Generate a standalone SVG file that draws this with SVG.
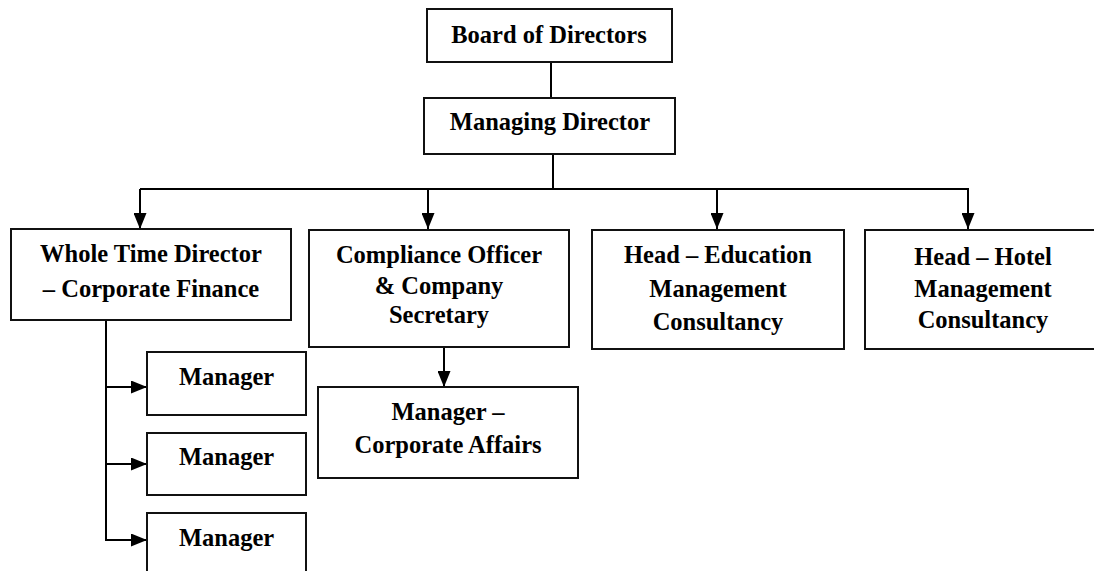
<svg xmlns="http://www.w3.org/2000/svg" width="1094" height="571" viewBox="0 0 1094 571">
  <style>
    .box { fill: #ffffff; stroke: #111111; stroke-width: 2; }
    .lbl { font-family: "Liberation Serif", "Times New Roman", serif; font-weight: bold; font-size: 24.5px; fill: #000000; text-anchor: middle; }
    .wire { fill: none; stroke: #000000; stroke-width: 2; }
    .arrow { marker-end: url(#head); }
  </style>
  <defs>
    <marker id="head" markerUnits="userSpaceOnUse" markerWidth="16" markerHeight="13" refX="16" refY="6.5" orient="auto">
      <path d="M0,0 L16,6.5 L0,13 Z" fill="#000000"/>
    </marker>
  </defs>
  <rect width="1094" height="571" fill="#ffffff"/>

  <!-- connectors -->
  <g id="connectors">
    <line class="wire" x1="551" y1="62" x2="551" y2="98"/>
    <line class="wire" x1="553" y1="154" x2="553" y2="189"/>
    <line class="wire" x1="140" y1="189" x2="968" y2="189"/>
    <line class="wire arrow" x1="140" y1="189" x2="140" y2="229"/>
    <line class="wire arrow" x1="428" y1="189" x2="428" y2="229"/>
    <line class="wire arrow" x1="717" y1="189" x2="717" y2="229"/>
    <line class="wire arrow" x1="968" y1="188" x2="968" y2="229"/>
    <line class="wire" x1="106" y1="320" x2="106" y2="541"/>
    <line class="wire arrow" x1="105" y1="387" x2="147" y2="387"/>
    <line class="wire arrow" x1="105" y1="464" x2="147" y2="464"/>
    <line class="wire arrow" x1="105" y1="540" x2="147" y2="540"/>
    <line class="wire arrow" x1="444" y1="347" x2="444" y2="387"/>
  </g>

  <g id="board">
    <rect class="box" x="427" y="9" width="245" height="53"/>
    <text class="lbl" x="549" y="43">Board of Directors</text>
  </g>

  <g id="managing-director">
    <rect class="box" x="424" y="98" width="251" height="56"/>
    <text class="lbl" x="550" y="130">Managing Director</text>
  </g>

  <g id="wtd-finance">
    <rect class="box" x="11" y="229" width="280" height="91"/>
    <text class="lbl" x="151" y="262">Whole Time Director</text>
    <text class="lbl" x="151" y="297">– Corporate Finance</text>
  </g>

  <g id="compliance">
    <rect class="box" x="309" y="230" width="260" height="117"/>
    <text class="lbl" x="439" y="263">Compliance Officer</text>
    <text class="lbl" x="439" y="294">&amp; Company</text>
    <text class="lbl" x="439" y="323">Secretary</text>
  </g>

  <g id="head-education">
    <rect class="box" x="592" y="230" width="252" height="119"/>
    <text class="lbl" x="718" y="263">Head – Education</text>
    <text class="lbl" x="718" y="297">Management</text>
    <text class="lbl" x="718" y="330">Consultancy</text>
  </g>

  <g id="head-hotel">
    <rect class="box" x="865" y="230" width="236" height="119"/>
    <text class="lbl" x="983" y="265">Head – Hotel</text>
    <text class="lbl" x="983" y="297">Management</text>
    <text class="lbl" x="983" y="328">Consultancy</text>
  </g>

  <g id="manager-1">
    <rect class="box" x="147" y="352" width="159" height="63"/>
    <text class="lbl" x="226.5" y="385">Manager</text>
  </g>

  <g id="manager-2">
    <rect class="box" x="147" y="433" width="159" height="62"/>
    <text class="lbl" x="226.5" y="465">Manager</text>
  </g>

  <g id="manager-3">
    <rect class="box" x="147" y="513" width="159" height="70"/>
    <text class="lbl" x="226.5" y="546">Manager</text>
  </g>

  <g id="manager-corporate-affairs">
    <rect class="box" x="318" y="387" width="260" height="91"/>
    <text class="lbl" x="448" y="420">Manager –</text>
    <text class="lbl" x="448" y="453">Corporate Affairs</text>
  </g>
</svg>
